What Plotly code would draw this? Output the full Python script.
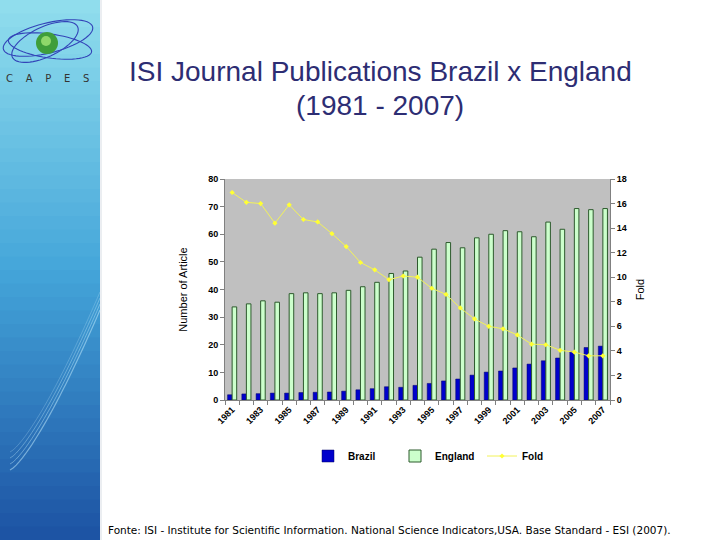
import numpy as np
import plotly.graph_objects as go

years = list(range(1981, 2008))
brazil = [1.9, 2.2, 2.3, 2.5, 2.5, 2.7, 2.8, 2.9, 3.2, 3.7, 4.1, 4.8, 4.6, 5.3, 6.0,
          6.9, 7.6, 9.0, 10.1, 10.5, 11.6, 13.0, 14.2, 15.2, 17.5, 19.0, 19.5]
england = [33.7, 34.8, 35.9, 35.4, 38.5, 38.8, 38.5, 38.8, 39.7, 41.0, 42.6, 45.8, 46.7, 51.7, 54.6,
           57.0, 55.1, 58.7, 60.0, 61.3, 60.9, 59.1, 64.4, 61.8, 69.3, 68.9, 69.3]
fold = [16.9, 16.1, 16.0, 14.4, 15.9, 14.7, 14.5, 13.55, 12.5, 11.2, 10.6, 9.8, 10.1, 10.0, 9.1,
        8.6, 7.5, 6.6, 6.0, 5.8, 5.3, 4.55, 4.5, 4.05, 3.9, 3.6, 3.6]
tick_years = list(range(1981, 2008, 2))

W, H = 720, 540
L, R, T, B = 225, 610, 179, 400


def px(x):
    return (x - L) / (R - L)


def py(y):
    return (B - y) / (B - T)


fig = go.Figure()
fig.add_trace(go.Bar(x=years, y=brazil, name="Brazil",
                     marker=dict(color="#0000cc", line=dict(color="#000066", width=0.5))))
fig.add_trace(go.Bar(x=years, y=england, name="England",
                     marker=dict(color="#ccffcc", line=dict(color="#2d5a2d", width=1))))
fig.add_trace(go.Scatter(x=years, y=fold, name="Fold", yaxis="y2", mode="lines+markers",
                         line=dict(color="#f2f25a", width=1),
                         marker=dict(symbol="diamond", size=4, color="#ffff33")))

shapes = []
# left decorative panel gradient
top = np.array([0x92, 0xdf, 0xee])
mid = np.array([0x45, 0xa6, 0xda])
bot = np.array([0x1c, 0x52, 0xa3])
n = 40
for i in range(n):
    y0 = H * i / n
    y1 = H * (i + 1) / n + 0.5
    t = (i + 0.5) / n
    if t < 0.5:
        c = top + (mid - top) * (t / 0.5)
    else:
        c = mid + (bot - mid) * ((t - 0.5) / 0.5)
    col = "rgb(%d,%d,%d)" % tuple(c.astype(int))
    shapes.append(dict(type="rect", xref="paper", yref="paper",
                       x0=px(0), x1=px(100), y0=py(y1), y1=py(y0),
                       fillcolor=col, line=dict(width=0), layer="below"))
shapes.append(dict(type="line", xref="paper", yref="paper", x0=px(101), x1=px(101),
                   y0=py(540), y1=py(0), line=dict(color="#d8dde4", width=1)))


def path_from(pts):
    return "M " + " L ".join("%.4f,%.4f" % (px(a), py(b)) for a, b in pts)


# light swooshes
for off, w, op in [(0, 1.2, 0.5), (6, 1.0, 0.4), (12, 1.0, 0.35), (18, 0.8, 0.3)]:
    tt = np.linspace(0, 1, 30)
    xs = 10 + 90 * tt
    ys = 470 - off - 160 * tt ** 1.3
    shapes.append(dict(type="path", xref="paper", yref="paper", path=path_from(zip(xs, ys)),
                       line=dict(color="rgba(200,240,255,%.2f)" % op, width=w)))

# logo orbits
for cx, cy, rx, ry, ang in [(48, 38, 46, 15, -14), (50, 46, 42, 12, 8), (45, 42, 36, 15, -25)]:
    th = np.linspace(0, 2 * np.pi, 60)
    a = np.deg2rad(ang)
    ex = cx + rx * np.cos(th) * np.cos(a) - ry * np.sin(th) * np.sin(a)
    ey = cy + rx * np.cos(th) * np.sin(a) + ry * np.sin(th) * np.cos(a)
    shapes.append(dict(type="path", xref="paper", yref="paper", path=path_from(zip(ex, ey)) + " Z",
                       line=dict(color="#3344b8", width=1.1)))
shapes.append(dict(type="circle", xref="paper", yref="paper", x0=px(36), x1=px(58),
                   y0=py(54), y1=py(32), fillcolor="#3f9e3a", line=dict(width=0)))
shapes.append(dict(type="circle", xref="paper", yref="paper", x0=px(41), x1=px(51),
                   y0=py(46), y1=py(36), fillcolor="#8fd86a", line=dict(width=0)))

sp = "&nbsp;" * 4
annotations = [
    dict(text="ISI Journal Publications Brazil x England", x=px(380), y=py(72),
         xref="paper", yref="paper", showarrow=False, xanchor="center", yanchor="middle",
         font=dict(family="Liberation Sans, Arial", size=28, color="#2d2d73")),
    dict(text="(1981 - 2007)", x=px(380), y=py(105),
         xref="paper", yref="paper", showarrow=False, xanchor="center", yanchor="middle",
         font=dict(family="Liberation Sans, Arial", size=28, color="#2d2d73")),
    dict(text=sp.join(list("CAPES")),
         x=px(47), y=py(78), xref="paper", yref="paper", showarrow=False,
         xanchor="center", yanchor="middle",
         font=dict(family="DejaVu Sans", size=10, color="#333333")),
    dict(text="Fonte: ISI - Institute for Scientific Information. National Science Indicators,USA. Base Standard - ESI (2007).",
         x=px(106), y=py(530), xref="paper", yref="paper", showarrow=False,
         xanchor="left", yanchor="middle",
         font=dict(family="DejaVu Sans", size=10.5, color="#000000")),
]

tickfont = dict(family="Liberation Sans, Arial", size=9, color="#000000", weight="bold")
legfont = dict(family="Liberation Sans, Arial", size=10, color="#000000", weight="bold")

fig.update_layout(
    width=W, height=H,
    margin=dict(l=L, r=W - R, t=T, b=H - B),
    paper_bgcolor="white", plot_bgcolor="#c0c0c0",
    barmode="group", bargap=0.36, bargroupgap=0.0,
    shapes=shapes, annotations=annotations,
    showlegend=True,
    legend=dict(orientation="h", x=px(308), y=py(456), xanchor="left", yanchor="middle",
                font=legfont, entrywidth=42, entrywidthmode="pixels",
                itemwidth=30, bgcolor="rgba(0,0,0,0)"),
    xaxis=dict(range=[1980.5, 2007.5], tickvals=tick_years, ticktext=[str(y) for y in tick_years],
               tickangle=-45, tickfont=tickfont, ticks="", showgrid=False, zeroline=False,
               showline=True, linecolor="#808080", linewidth=1,
               minor=dict(tick0=0.5, dtick=1, ticks="outside", ticklen=4, tickcolor="#808080",
                          showgrid=False)),
    yaxis=dict(range=[0, 80], dtick=10, tickfont=tickfont, ticks="outside", ticklen=4,
               tickcolor="#808080", showgrid=False, zeroline=False, showline=True,
               linecolor="#808080", linewidth=1,
               title=dict(text="Number of Article", standoff=18,
                          font=dict(family="Liberation Sans, Arial", size=11, color="#000000"))),
    yaxis2=dict(range=[0, 18], dtick=2, overlaying="y", side="right", tickfont=tickfont,
                ticks="outside", ticklen=4, tickcolor="#808080", showgrid=False, zeroline=False,
                showline=True, linecolor="#808080", linewidth=1,
                title=dict(text="Fold", standoff=10,
                           font=dict(family="Liberation Sans, Arial", size=11, color="#000000"))),
)

fig.write_html("out.html", config={"displayModeBar": False},
               post_script="document.body.style.margin='0';document.body.style.padding='0';")
